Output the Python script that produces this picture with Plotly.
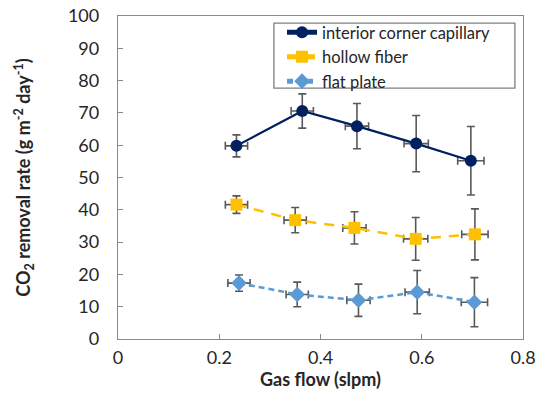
import plotly.graph_objects as go

# data
flow_icc = [0.234, 0.364, 0.472, 0.589, 0.697]
rate_icc = [59.8, 70.6, 65.9, 60.5, 55.2]
err_icc = [3.4, 5.3, 7.0, 8.7, 10.6]

flow_hf = [0.234, 0.350, 0.467, 0.588, 0.705]
rate_hf = [41.6, 36.8, 34.4, 31.0, 32.4]
err_hf = [2.7, 3.9, 5.0, 6.6, 7.9]

flow_fp = [0.239, 0.354, 0.475, 0.591, 0.704]
rate_fp = [17.3, 13.8, 12.0, 14.5, 11.4]
err_fp = [2.5, 3.8, 5.0, 6.7, 7.6]

flow_err = [0.022, 0.022, 0.023, 0.024, 0.026]

x_ticks = [0, 0.2, 0.4, 0.6, 0.8]
x_labels = ["0", "0.2", "0.4", "0.6", "0.8"]
y_ticks = list(range(0, 101, 10))

ERR = "#595959"
FONT = "Lato, Open Sans, sans-serif"
TXT = "#262626"

def ey(v):
    return dict(type="data", array=v, color=ERR, thickness=1.6, width=4)

def ex():
    return dict(type="data", array=flow_err, color=ERR, thickness=1.6, width=4)

fig = go.Figure()
fig.add_trace(go.Scatter(
    x=flow_icc, y=rate_icc, mode="lines+markers", name="interior corner capillary",
    line=dict(color="#002060", width=2.2),
    marker=dict(symbol="circle", size=12, color="#002060"),
    error_y=ey(err_icc), error_x=ex()))
fig.add_trace(go.Scatter(
    x=flow_hf, y=rate_hf, mode="lines+markers", name="hollow fiber",
    line=dict(color="#FFC000", width=2.5, dash="10px,8px"),
    marker=dict(symbol="square", size=12, color="#FFC000"),
    error_y=ey(err_hf), error_x=ex()))
fig.add_trace(go.Scatter(
    x=flow_fp, y=rate_fp, mode="lines+markers", name="flat plate",
    line=dict(color="#5B9BD5", width=2.5, dash="6px,4px"),
    marker=dict(symbol="diamond", size=12, color="#5B9BD5"),
    error_y=ey(err_fp), error_x=ex()))

axis_common = dict(
    showline=True, linecolor="#898989", linewidth=1.3, mirror=True,
    ticks="inside", ticklen=5, tickcolor="#898989", tickwidth=1,
    showgrid=False, zeroline=False,
    tickfont=dict(family=FONT, size=18, color=TXT),
)

fig.update_layout(
    width=537, height=417,
    margin=dict(l=118, r=14, t=16, b=78),
    paper_bgcolor="white", plot_bgcolor="white",
    font=dict(family=FONT, color=TXT),
    xaxis=dict(range=[0, 0.8], tickvals=x_ticks, ticktext=x_labels, automargin="bottom",
               title=dict(text="<b>Gas flow (slpm)</b>", font=dict(family=FONT, size=18, color=TXT), standoff=6),
               ticklabelstandoff=2, **axis_common),
    yaxis=dict(range=[0, 100], tickvals=y_ticks, automargin="left",
               title=dict(text="<b>CO<sub>2</sub> removal rate (g m<sup>-2</sup> day<sup>-1</sup>)</b>",
                          font=dict(family=FONT, size=18, color=TXT), standoff=32),
               ticklabelstandoff=14, **axis_common),
    legend=dict(x=0.405, y=1.003, xanchor="left", yanchor="top",
                borderwidth=0, bgcolor="rgba(0,0,0,0)",
                font=dict(family=FONT, size=16.5, color=TXT),
                tracegroupgap=0, itemsizing="constant"),
    showlegend=True,
    shapes=[dict(type="rect", xref="paper", yref="paper",
                 x0=0.385, x1=0.980, y0=0.777, y1=0.978,
                 line=dict(color="#7f7f7f", width=1.3), fillcolor="white", layer="below")],
)

# remove the browser's default 8px page margin so the figure fills the window
fig.write_html("out.html", config={"displayModeBar": False},
               post_script="document.body.style.margin='0px';")
